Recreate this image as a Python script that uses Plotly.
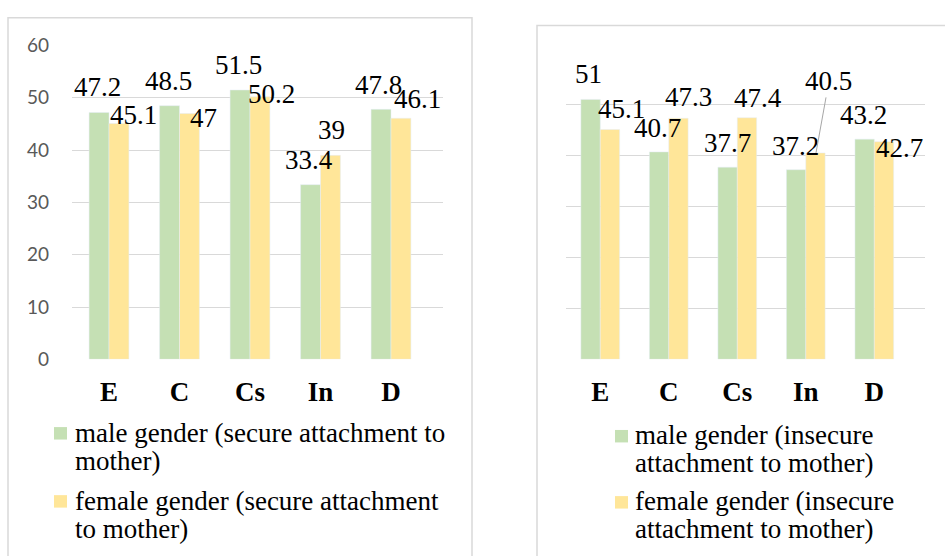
import plotly.graph_objects as go

# ---- data -------------------------------------------------------------
categories = ["E", "C", "Cs", "In", "D"]

secure_male = [47.2, 48.5, 51.5, 33.4, 47.8]
secure_female = [45.1, 47.0, 50.2, 39.0, 46.1]
insecure_male = [51.0, 40.7, 37.7, 37.2, 43.2]
insecure_female = [45.1, 47.3, 47.4, 40.5, 42.7]

secure_names = ["male gender (secure attachment to mother)",
                "female gender (secure attachment to mother)"]
insecure_names = ["male gender (insecure attachment to mother)",
                  "female gender (insecure attachment to mother)"]
# how each legend label wraps onto two lines
secure_legend_lines = [["male gender (secure attachment to", "mother)"],
                       ["female gender (secure attachment", "to mother)"]]
insecure_legend_lines = [["male gender (insecure", "attachment to mother)"],
                         ["female gender (insecure", "attachment to mother)"]]

y_ticks = [0, 10, 20, 30, 40, 50, 60]

# ---- styling ------------------------------------------------------------
W, H = 945, 556
GREEN = "#c5e0b4"
GOLD = "#ffe699"
GRID = "#d9d9d9"
SERIF = "Liberation Serif"
FS = 27


def px_x(p):
    return p / W


def px_y(p):
    return 1 - p / H


fig = go.Figure()

fig.add_trace(go.Bar(x=categories, y=secure_male, name=secure_names[0],
                     marker_color=GREEN, xaxis="x", yaxis="y", showlegend=False))
fig.add_trace(go.Bar(x=categories, y=secure_female, name=secure_names[1],
                     marker_color=GOLD, xaxis="x", yaxis="y", showlegend=False))
fig.add_trace(go.Bar(x=categories, y=insecure_male, name=insecure_names[0],
                     marker_color=GREEN, xaxis="x2", yaxis="y2", showlegend=False))
fig.add_trace(go.Bar(x=categories, y=insecure_female, name=insecure_names[1],
                     marker_color=GOLD, xaxis="x2", yaxis="y2", showlegend=False))

# value labels: (dx, dy) nudges in px from the top-centre of each bar
secure_male_nudge = [(-1, -25), (-1, -25), (-1, -25), (-1, -25), (-2, -24)]
secure_female_nudge = [(14, -8), (13, 4), (11, -3), (0, -25), (16, -19)]
insecure_male_nudge = [(-2, -25), (-1, -24), (0, -24), (0, -24), (-1, -24)]
insecure_female_nudge = [(11, -20), (10, -21), (11, -20), (13, -72), (15, 6)]

annotations = []


def value_labels(values, nudges, xref, yref, half_offset, leader_idx=None):
    for i, (cat, v) in enumerate(zip(categories, values)):
        dx, dy = nudges[i]
        label = f"{v:g}"
        if leader_idx is not None and i == leader_idx:
            annotations.append(dict(
                x=cat, y=v, xref=xref, yref=yref, xshift=half_offset,
                text=label, showarrow=True, arrowhead=0, arrowwidth=1,
                arrowcolor="#a6a6a6", ax=dx, ay=dy, standoff=0,
                font=dict(family=SERIF, size=FS, color="black")))
        else:
            annotations.append(dict(
                x=cat, y=v, xref=xref, yref=yref,
                xshift=half_offset + dx, yshift=-dy,
                text=label, showarrow=False, xanchor="center", yanchor="middle",
                font=dict(family=SERIF, size=FS, color="black")))


value_labels(secure_male, secure_male_nudge, "x", "y", -10.5)
value_labels(secure_female, secure_female_nudge, "x", "y", 10.5)
value_labels(insecure_male, insecure_male_nudge, "x2", "y2", -10.2)
value_labels(insecure_female, insecure_female_nudge, "x2", "y2", 10.2, leader_idx=3)

shapes = []

# chart frames
shapes.append(dict(type="rect", xref="paper", yref="paper",
                   x0=px_x(8), x1=px_x(472), y0=px_y(600), y1=px_y(6),
                   line=dict(color=GRID, width=1.5), fillcolor="rgba(0,0,0,0)"))
shapes.append(dict(type="rect", xref="paper", yref="paper",
                   x0=px_x(537), x1=px_x(990), y0=px_y(600), y1=px_y(14),
                   line=dict(color=GRID, width=1.5), fillcolor="rgba(0,0,0,0)"))


def legend_block(lines_per_entry, colors, sym_x, text_x, baselines, sym_tops):
    for entry, color, bl, st in zip(lines_per_entry, colors, baselines, sym_tops):
        shapes.append(dict(type="rect", xref="paper", yref="paper",
                           x0=px_x(sym_x), x1=px_x(sym_x + 13),
                           y0=px_y(st + 13), y1=px_y(st),
                           line=dict(width=0), fillcolor=color))
        for j, line in enumerate(entry):
            base = bl[j]
            annotations.append(dict(
                x=px_x(text_x), y=px_y(base - 0.3375 * FS), xref="paper", yref="paper",
                text=line, showarrow=False, xanchor="left", yanchor="middle",
                font=dict(family=SERIF, size=FS, color="black")))


legend_block(secure_legend_lines, [GREEN, GOLD], 54, 73,
             [(448, 478), (519, 548)], [433, 504])
legend_block(insecure_legend_lines, [GREEN, GOLD], 615, 633,
             [(450, 480), (519, 548)], [436, 505])

axis_x = dict(showgrid=False, zeroline=False, showline=False, ticks="",
              tickfont=dict(family=SERIF, size=FS, color="black", weight="bold"),
              ticklabelstandoff=14, fixedrange=True)
axis_y = dict(range=[0, 60], tickvals=y_ticks, showgrid=True, gridcolor=GRID,
              gridwidth=1.3, zeroline=False, showline=False, ticks="",
              fixedrange=True)

fig.update_layout(
    width=W, height=H,
    margin=dict(l=0, r=0, t=0, b=0),
    paper_bgcolor="white", plot_bgcolor="white",
    barmode="group", bargap=0.435, bargroupgap=0,
    xaxis=dict(axis_x, domain=[px_x(72), px_x(443)], anchor="y"),
    yaxis=dict(axis_y, domain=[px_y(362.3), px_y(35)], anchor="x",
               tickfont=dict(family="Lato", size=19, color="#595959"),
               ticklabelstandoff=22),
    xaxis2=dict(axis_x, domain=[px_x(566), px_x(925)], anchor="y2"),
    yaxis2=dict(axis_y, domain=[px_y(362.3), px_y(43.3)], anchor="x2",
                showticklabels=False),
    annotations=annotations,
    shapes=shapes,
)

fig.write_html("out.html")
